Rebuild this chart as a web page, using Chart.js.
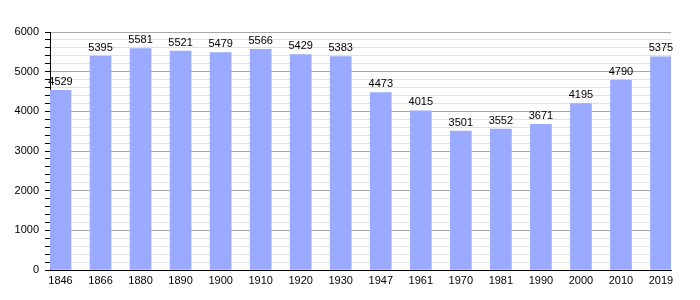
<!DOCTYPE html>
<html>
<head>
<meta charset="utf-8">
<script src="https://cdn.jsdelivr.net/npm/chart.js@4/dist/chart.umd.min.js"></script>
<style>
  html, body { margin: 0; padding: 0; background: #fff; }
  #wrap { width: 700px; height: 300px; }
</style>
</head>
<body>
<div id="wrap"><canvas id="chart"></canvas></div>
<script>
// years and population
const years = ["1846", "1866", "1880", "1890", "1900", "1910", "1920", "1930", "1947", "1961", "1970", "1981", "1990", "2000", "2010", "2019"];
const population = [4529, 5395, 5581, 5521, 5479, 5566, 5429, 5383, 4473, 4015, 3501, 3552, 3671, 4195, 4790, 5375];
const yTicks = [0, 1000, 2000, 3000, 4000, 5000, 6000];

const barColor = "#99aaff";
const fontName = "'Liberation Sans', Arial, sans-serif";

// draw the value above each bar
const valueLabels = {
    id: "valueLabels",
    afterDatasetsDraw(chart) {
        const ctx = chart.ctx;
        const meta = chart.getDatasetMeta(0);
        ctx.save();
        ctx.font = "11px " + fontName;
        ctx.fillStyle = "#000";
        ctx.textAlign = "center";
        ctx.textBaseline = "bottom";
        meta.data.forEach((bar, i) => {
            ctx.fillText(String(population[i]), bar.x, bar.y - 3);
        });
        ctx.restore();
    }
};

new Chart(document.getElementById("chart"), {
    type: "bar",
    data: {
        datasets: [{
            data: population.map((v, i) => ({ x: i, y: v })),
            backgroundColor: barColor,
            borderWidth: 0,
            barThickness: 21
        }]
    },
    options: {
        responsive: true,
        maintainAspectRatio: false,
        animation: false,
        layout: { padding: { top: 32, right: 29, bottom: 0, left: 0 } },
        plugins: { legend: { display: false }, tooltip: { enabled: false } },
        scales: {
            x: {
                type: "linear",
                offset: false,
                min: -0.2623,
                max: 15.25,
                afterBuildTicks(scale) {
                    scale.ticks = years.map((_, i) => ({ value: i }));
                },
                afterFit(scale) { scale.height = 30; },
                border: { display: true, color: "#000", width: 1 },
                grid: { display: false, drawTicks: false },
                ticks: {
                    autoSkip: false,
                    maxRotation: 0,
                    padding: 4,
                    color: "#000",
                    font: { family: fontName, size: 11 },
                    callback: (v) => years[v] || ""
                }
            },
            y: {
                min: 0,
                max: 6000,
                afterFit(scale) { scale.width = 50; },
                border: { display: true, color: "#000", width: 1 },
                grid: {
                    color: (c) => (c.tick.value % 1000 === 0 ? "#a8a8a8" : "#e2e2e2"),
                    tickColor: "#000",
                    tickLength: 5,
                    drawTicks: true
                },
                ticks: {
                    stepSize: 200,
                    autoSkip: false,
                    maxTicksLimit: 40,
                    padding: 6,
                    color: "#000",
                    font: { family: fontName, size: 11 },
                    callback: (v) => (yTicks.includes(v) ? String(v) : "")
                }
            }
        }
    },
    plugins: [valueLabels]
});
</script>
</body>
</html>
